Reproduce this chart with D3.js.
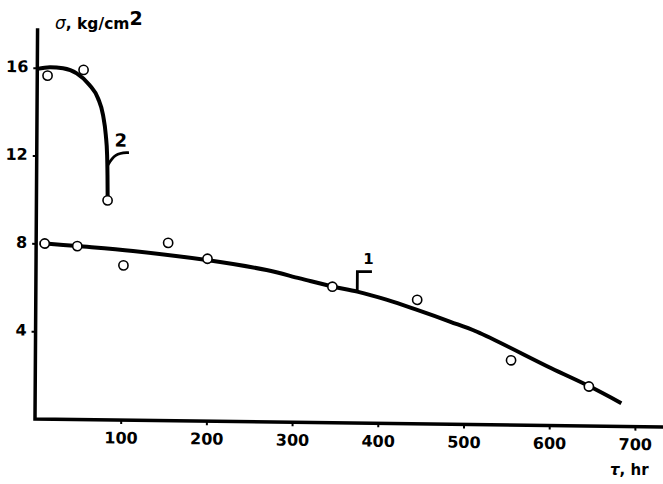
<!DOCTYPE html>
<html><head><meta charset="utf-8">
<script src="https://cdn.jsdelivr.net/npm/d3@7"></script>
<style>body{margin:0;background:#fff} svg{display:block}</style>
</head><body>
<script>
// ---- data ----
const xTicks = [100, 200, 300, 400, 500, 600, 700];
const yTicks = [4, 8, 12, 16];
// curve 1: measured points and fitted curve
const series1Points = [[10, 8.0], [48, 7.9], [102, 7.05], [154, 8.1], [200, 7.4], [346, 6.2], [445, 5.65], [555, 2.95], [646, 1.8]];
const series1Curve = [[4, 8.02], [48, 7.9], [113, 7.71], [199, 7.34], [269, 6.92], [308, 6.56], [347, 6.2], [375, 5.99], [410, 5.63], [445, 5.19], [484, 4.67], [515, 4.23], [602, 2.61], [646, 1.82], [684, 1.06]];
// curve 2
const series2Points = [[12, 15.65], [54, 15.93], [83, 10.0]];
const series2Curve = [[0, 15.95], [15, 16.03], [30, 15.99], [46, 15.77], [61, 15.25], [71, 14.65], [77, 13.89], [80.4, 12.98], [82.1, 12.07], [82.7, 11.16], [83.1, 10.0]];
// curve labels with leader anchors (data coords)
const curveNames = ["1", "2"];
const leader1 = [[375, 5.99], [375, 6.9], [392, 6.91]];
const leader2 = [[82.1, 11.54], [91, 12.15], [107.6, 12.19]];
const label1Pos = [388, 7.25];
const label2Pos = [98, 12.46];
const xTitle = "τ, hr";
const yTitleMain = "kg/cm";

const W = 663, H = 484;
const svg = d3.select("body").append("svg").attr("width", W).attr("height", H);

const x = d3.scaleLinear().domain([0, 700]).range([35, 35 + 0.857 * 700]);
const y = d3.scaleLinear().domain([0, 16]).range([419, 419 - 16 * 21.95]);

// slight skew of the scanned figure
const g = svg.append("g").attr("transform", `matrix(1,0.0127,-0.0066,1,${0.0066 * 419},${-0.0127 * 35})`);

const font = "'DejaVu Sans', sans-serif";

// axes lines
g.append("path")
  .attr("d", `M${x(0)},${y(17.8)}L${x(0)},${y(0)}L${x(735)},${y(0)}`)
  .attr("fill", "none").attr("stroke", "#000").attr("stroke-width", 3.5)
  .attr("stroke-linejoin", "miter");

const yAxis = g.append("g").attr("transform", `translate(${x(0)},0)`)
  .call(d3.axisLeft(y).tickValues(yTicks).tickSize(4).tickSizeOuter(0).tickPadding(5).tickFormat(d3.format("d")));
const xAxis = g.append("g").attr("transform", `translate(0,${y(0)})`)
  .call(d3.axisBottom(x).tickValues(xTicks).tickSize(4).tickSizeOuter(0).tickPadding(8).tickFormat(d3.format("d")));
[yAxis, xAxis].forEach(a => {
  a.select(".domain").remove();
  a.selectAll(".tick line").attr("stroke", "#000").attr("stroke-width", 2);
  a.selectAll(".tick text").attr("fill", "#000").style("font-family", font)
    .style("font-weight", "bold").style("font-size", "16px");
});
yAxis.selectAll(".tick text").attr("dy", "0.25em");

// curves
const line1 = d3.line().x(d => x(d[0])).y(d => y(d[1])).curve(d3.curveCatmullRom.alpha(0.5));
const line2 = d3.line().x(d => x(d[0])).y(d => y(d[1])).curve(d3.curveMonotoneX);
g.append("path").attr("d", line1(series1Curve)).attr("fill", "none")
  .attr("stroke", "#000").attr("stroke-width", 4);
g.append("path").attr("d", line2(series2Curve)).attr("fill", "none")
  .attr("stroke", "#000").attr("stroke-width", 4);

// leaders
const lline = d3.line().x(d => x(d[0])).y(d => y(d[1]));
g.append("path").attr("d", lline(leader1)).attr("fill", "none").attr("stroke", "#000").attr("stroke-width", 2.8);
g.append("path").attr("d", d3.line().x(d => x(d[0])).y(d => y(d[1])).curve(d3.curveBasis)(leader2))
  .attr("fill", "none").attr("stroke", "#000").attr("stroke-width", 2.8);

g.append("text").attr("x", x(label1Pos[0])).attr("y", y(label1Pos[1])).attr("text-anchor", "middle")
  .style("font-family", font).style("font-weight", "bold").style("font-size", "15px").text(curveNames[0]);
g.append("text").attr("x", x(label2Pos[0])).attr("y", y(label2Pos[1])).attr("text-anchor", "middle")
  .style("font-family", font).style("font-weight", "bold").style("font-size", "18px").text(curveNames[1]);

// points
[series1Points, series2Points].forEach(p => {
  g.selectAll(null).data(p).enter().append("circle")
    .attr("cx", d => x(d[0])).attr("cy", d => y(d[1])).attr("r", 4.6)
    .attr("fill", "#fff").attr("stroke", "#000").attr("stroke-width", 1.6);
});

// axis titles
const yt = svg.append("text").attr("x", 55).attr("y", 28.5)
  .style("font-family", font).style("font-weight", "bold").style("font-size", "15.5px");
yt.append("tspan").style("font-style", "italic").style("font-weight", "normal").style("font-size", "17px").text("σ");
yt.append("tspan").text(", " + yTitleMain);
yt.append("tspan").attr("dy", -4).style("font-size", "19px").text("2");

const xt = svg.append("text").attr("x", 610).attr("y", 475)
  .style("font-family", font).style("font-weight", "bold").style("font-size", "15px");
xt.append("tspan").style("font-style", "italic").text(xTitle.slice(0, 1));
xt.append("tspan").text(xTitle.slice(1));
</script>
</body></html>
